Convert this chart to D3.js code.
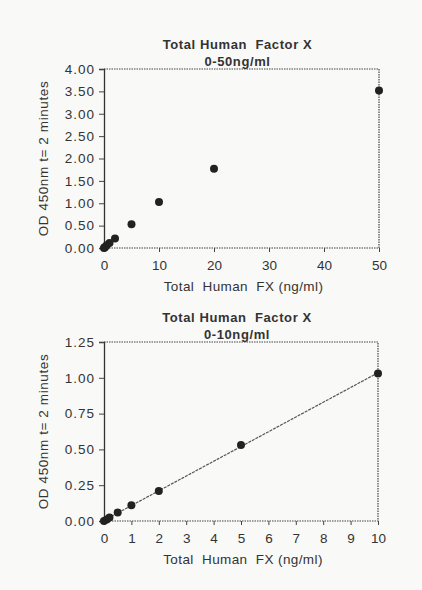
<!DOCTYPE html>
<html>
<head>
<meta charset="utf-8">
<script src="https://cdn.jsdelivr.net/npm/d3@7"></script>
<style>
  body { margin: 0; background: #f9f9f8; }
  svg text { font-family: "Liberation Sans", Arial, sans-serif; fill: #333; }
  .tick line { stroke: #444; }
</style>
</head>
<body>
<svg width="422" height="590"></svg>
<script>
// values
var concAll = [0, 0.1, 0.2, 0.5, 1, 2, 5, 10, 20, 50],
    odAll   = [0.0, 0.01, 0.025, 0.06, 0.11, 0.21, 0.53, 1.03, 1.77, 3.52];
var concLow = [0, 0.1, 0.2, 0.5, 1, 2, 5, 10],
    odLow   = [0.0, 0.01, 0.025, 0.06, 0.11, 0.21, 0.53, 1.03];

var topTicksX = [0, 10, 20, 30, 40, 50],
    topTicksY = [0, 0.5, 1, 1.5, 2, 2.5, 3, 3.5, 4],
    lowTicksX = [0, 1, 2, 3, 4, 5, 6, 7, 8, 9, 10],
    lowTicksY = [0, 0.25, 0.5, 0.75, 1, 1.25];

var titleMain = "Total Human  Factor X",
    xLabel = "Total  Human  FX (ng/ml)",
    yLabel = "OD 450nm t= 2 minutes";

var svg = d3.select("svg");

function drawPanel(cfg) {
  var g = svg.append("g").attr("class", cfg.name);

  var x = d3.scaleLinear().domain(cfg.xDomain).range([cfg.left, cfg.right]),
      y = d3.scaleLinear().domain(cfg.yDomain).range([cfg.bottom, cfg.top]);

  // dotted frame on top / right / bottom
  g.append("path")
    .attr("d", "M" + cfg.left + "," + cfg.top + "H" + cfg.right + "V" + cfg.bottom + "H" + cfg.left)
    .attr("fill", "none")
    .attr("stroke", "#444")
    .attr("stroke-width", 1.2)
    .attr("stroke-dasharray", "1.5,1");

  var xAxis = g.append("g")
    .attr("transform", "translate(0," + cfg.bottom + ")")
    .call(d3.axisBottom(x).tickValues(cfg.xTicks).tickFormat(d3.format("d")).tickSize(4).tickPadding(8));
  xAxis.select(".domain").remove();
  xAxis.selectAll("text").attr("font-size", 13.5);

  var yAxis = g.append("g")
    .attr("transform", "translate(" + cfg.left + ",0)")
    .call(d3.axisLeft(y).tickValues(cfg.yTicks).tickFormat(d3.format(".2f")).tickSize(5).tickPadding(4));
  yAxis.select(".domain").attr("stroke", "#333").attr("stroke-width", 1.3);
  yAxis.selectAll("text").attr("font-size", 13.5).attr("letter-spacing", 1);

  if (cfg.fit) {
    var n = cfg.xs.length,
        mx = d3.mean(cfg.xs), my = d3.mean(cfg.ys),
        sxy = d3.sum(cfg.xs, function(d, i) { return (d - mx) * (cfg.ys[i] - my); }),
        sxx = d3.sum(cfg.xs, function(d) { return (d - mx) * (d - mx); }),
        slope = sxy / sxx, icpt = my - slope * mx;
    g.append("line")
      .attr("x1", x(cfg.xDomain[0])).attr("y1", y(icpt + slope * cfg.xDomain[0]))
      .attr("x2", x(cfg.xDomain[1])).attr("y2", y(icpt + slope * cfg.xDomain[1]))
      .attr("stroke", "#555")
      .attr("stroke-width", 1.2)
      .attr("stroke-dasharray", "3,1");
  }

  g.selectAll("circle")
    .data(cfg.xs)
    .enter().append("circle")
    .attr("cx", function(d) { return x(d); })
    .attr("cy", function(d, i) { return y(cfg.ys[i]); })
    .attr("r", 4)
    .attr("fill", "#222");

  var cx = (cfg.left + cfg.right) / 2;
  g.append("text")
    .attr("x", cx - 4).attr("y", cfg.top - 20)
    .attr("text-anchor", "middle")
    .attr("font-size", 13).attr("font-weight", "bold")
    .attr("letter-spacing", 0.6)
    .style("white-space", "pre")
    .text(titleMain);
  g.append("text")
    .attr("x", cx - 4).attr("y", cfg.top - 3)
    .attr("text-anchor", "middle")
    .attr("font-size", 13).attr("font-weight", "bold")
    .attr("letter-spacing", 0.6)
    .text(cfg.subtitle);

  g.append("text")
    .attr("x", cx + 2).attr("y", cfg.bottom + 43)
    .attr("text-anchor", "middle")
    .attr("font-size", 13.5)
    .attr("letter-spacing", 0.4)
    .style("white-space", "pre")
    .text(xLabel);

  g.append("text")
    .attr("transform", "translate(" + (cfg.left - 56) + "," + ((cfg.top + cfg.bottom) / 2) + ") rotate(-90)")
    .attr("text-anchor", "middle")
    .attr("font-size", 13.5)
    .attr("letter-spacing", 0.6)
    .text(yLabel);
}

drawPanel({
  name: "full", subtitle: "0-50ng/ml",
  xs: concAll, ys: odAll,
  xDomain: [0, 50], yDomain: [0, 4],
  xTicks: topTicksX, yTicks: topTicksY,
  left: 104, right: 379, top: 69, bottom: 248,
  fit: false
});

drawPanel({
  name: "low", subtitle: "0-10ng/ml",
  xs: concLow, ys: odLow,
  xDomain: [0, 10], yDomain: [0, 1.25],
  xTicks: lowTicksX, yTicks: lowTicksY,
  left: 104, right: 378, top: 342, bottom: 521,
  fit: true
});
</script>
</body>
</html>
